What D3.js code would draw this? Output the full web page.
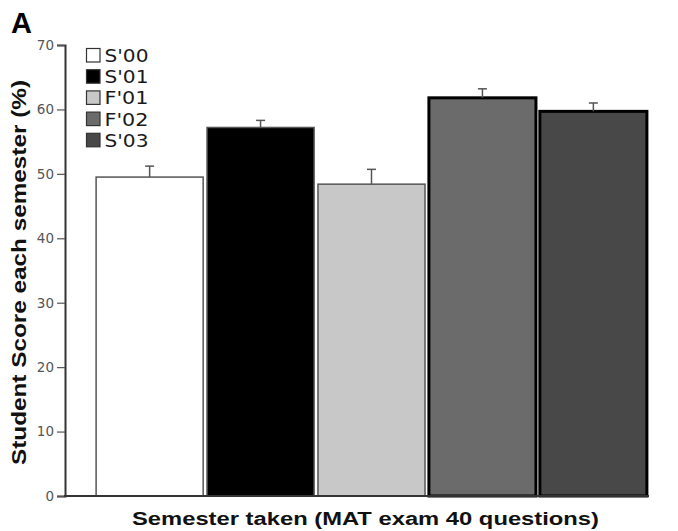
<!DOCTYPE html>
<html>
<head>
<meta charset="utf-8">
<script src="https://cdn.jsdelivr.net/npm/d3@7"></script>
<style>
  body { margin: 0; background: #fff; }
  svg { display: block; }
</style>
</head>
<body>
<svg id="chart" width="678" height="531"></svg>
<script>
// semesters and scores
var semesters = ["S'00", "S'01", "F'01", "F'02", "S'03"]
var scores = [49.5, 57.2, 48.4, 61.8, 59.7]
var errors = [1.7, 1.1, 2.3, 1.4, 1.3]
var fills = ["#ffffff", "#000000", "#c8c8c8", "#6b6b6b", "#484848"]
var yTicks = [0, 10, 20, 30, 40, 50, 60, 70]

var svg = d3.select("#chart")

var x = d3.scaleBand()
    .domain(semesters)
    .range([95, 648])
    .paddingInner(0.035)
    .paddingOuter(0.01)

var y = d3.scaleLinear().domain([0, 70]).range([496, 45])

var data = semesters.map((s, i) => ({name: s, value: scores[i], err: errors[i], fill: fills[i], i: i}))

// bars
svg.selectAll(".bar")
    .data(data).enter()
    .append("rect")
    .attr("class", "bar")
    .attr("x", d => x(d.name))
    .attr("y", d => y(d.value))
    .attr("width", x.bandwidth())
    .attr("height", d => y(0) - y(d.value))
    .attr("fill", d => d.fill)
    .attr("stroke", d => d.i >= 3 ? "#000" : "#555")
    .attr("stroke-width", d => d.i >= 3 ? 3 : 1.5)

// error bars (upper only)
var eb = svg.selectAll(".err").data(data).enter().append("g").attr("class", "err")
    .attr("stroke", "#555").attr("stroke-width", 1.5)
eb.append("line")
    .attr("x1", d => x(d.name) + x.bandwidth() / 2)
    .attr("x2", d => x(d.name) + x.bandwidth() / 2)
    .attr("y1", d => y(d.value))
    .attr("y2", d => y(d.value + d.err))
eb.append("line")
    .attr("x1", d => x(d.name) + x.bandwidth() / 2 - 4.5)
    .attr("x2", d => x(d.name) + x.bandwidth() / 2 + 4.5)
    .attr("y1", d => y(d.value + d.err))
    .attr("y2", d => y(d.value + d.err))

// y axis
var yAxis = svg.append("g")
    .attr("transform", "translate(65,0)")
    .call(d3.axisLeft(y).tickValues(yTicks).tickSize(8).tickPadding(3))
yAxis.select(".domain").attr("stroke", "#333").attr("stroke-width", 2)
yAxis.selectAll(".tick line").attr("stroke", "#555").attr("stroke-width", 1.2)
yAxis.selectAll(".tick text")
    .attr("fill", "#555")
    .style("font-family", "DejaVu Sans, Verdana, sans-serif")
    .style("font-size", "13.5px")

// x axis line
svg.append("line")
    .attr("x1", 64).attr("x2", 649)
    .attr("y1", y(0)).attr("y2", y(0))
    .attr("stroke", "#333").attr("stroke-width", 2)

// legend
var legend = svg.selectAll(".leg").data(data).enter().append("g")
    .attr("class", "leg")
    .attr("transform", d => `translate(86.5,${48.5 + d.i * 21.2})`)
legend.append("rect")
    .attr("width", 13.5).attr("height", 13.5)
    .attr("fill", d => d.fill)
    .attr("stroke", "#333").attr("stroke-width", 1.2)
legend.append("text")
    .attr("x", 18).attr("y", 13.5)
    .attr("fill", "#1a1a1a")
    .attr("textLength", 44)
    .attr("lengthAdjust", "spacingAndGlyphs")
    .style("font-family", "DejaVu Sans, Verdana, sans-serif")
    .style("font-size", "18px")
    .text(d => d.name)

// panel letter
svg.append("text")
    .attr("x", 11).attr("y", 33)
    .style("font-family", "Liberation Sans, Arial, sans-serif")
    .style("font-weight", "bold")
    .style("font-size", "29px")
    .text("A")

// axis titles
svg.append("text")
    .attr("transform", "translate(25.5,465) rotate(-90)")
    .attr("text-anchor", "start")
    .attr("fill", "#111")
    .attr("textLength", 385)
    .attr("lengthAdjust", "spacingAndGlyphs")
    .style("font-family", "Liberation Sans, Arial, sans-serif")
    .style("font-weight", "bold")
    .style("font-size", "20px")
    .text("Student Score each semester (%)")

svg.append("text")
    .attr("x", 132).attr("y", 525)
    .attr("text-anchor", "start")
    .attr("fill", "#111")
    .attr("textLength", 467)
    .attr("lengthAdjust", "spacingAndGlyphs")
    .style("font-family", "Liberation Sans, Arial, sans-serif")
    .style("font-weight", "bold")
    .style("font-size", "18px")
    .text("Semester taken (MAT exam 40 questions)")
</script>
</body>
</html>
